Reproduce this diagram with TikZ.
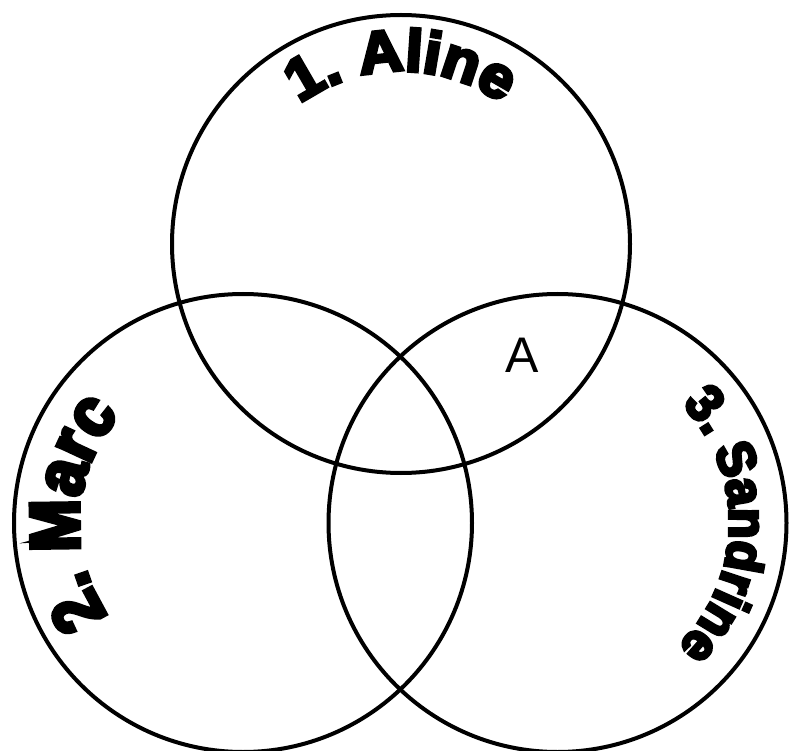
\documentclass[tikz,border=0pt]{standalone}
\usepackage{fontspec}
\setmainfont{Liberation Sans}
\newfontfamily\fa[FakeBold=6,FakeStretch=1.03]{Liberation Sans Bold}
\newfontfamily\fm[FakeBold=6,FakeStretch=0.9]{Liberation Sans Bold}
\newfontfamily\fs[FakeBold=6,FakeStretch=0.94]{Liberation Sans Bold}
\usetikzlibrary{decorations.text}
\tikzset{
  ring/.style={draw=black, line width=4pt},
  arctext/.style={decorate, decoration={text along path, text align=center, text={#1}}},
  plainlabel/.style={font=\fontsize{50}{50}\selectfont, inner sep=0pt}
}
\begin{document}
\begin{tikzpicture}[x=1pt,y=1pt]
  \useasboundingbox (0,0) rectangle (790,-751);
  \fill[white] (0,0) rectangle (790,-751);
  \coordinate (ct) at (401,-244);
  \coordinate (cl) at (243,-523);
  \coordinate (cr) at (557.5,-523);
  \draw[ring] (ct) circle[radius=229];
  \draw[ring] (cl) circle[radius=229];
  \draw[ring] (cr) circle[radius=229];
  \path[arctext={|\fa\fontsize{59}{61}\selectfont|1. Aline}]
    (ct) ++(150:173) arc[start angle=150, end angle=30, radius=173];
  \path[arctext={|\fm\fontsize{70}{72}\selectfont|2. Marc}]
    (cl) ++(212:164) arc[start angle=212, end angle=141, radius=164];
  \path[arctext={|\fs\fontsize{53}{55}\selectfont|3. Sandrine}]
    (cr) ++(42:172) arc[start angle=42, end angle=-44, radius=172];
  \node[plainlabel] (a) at (522,-355) {A};
\end{tikzpicture}
\end{document}
